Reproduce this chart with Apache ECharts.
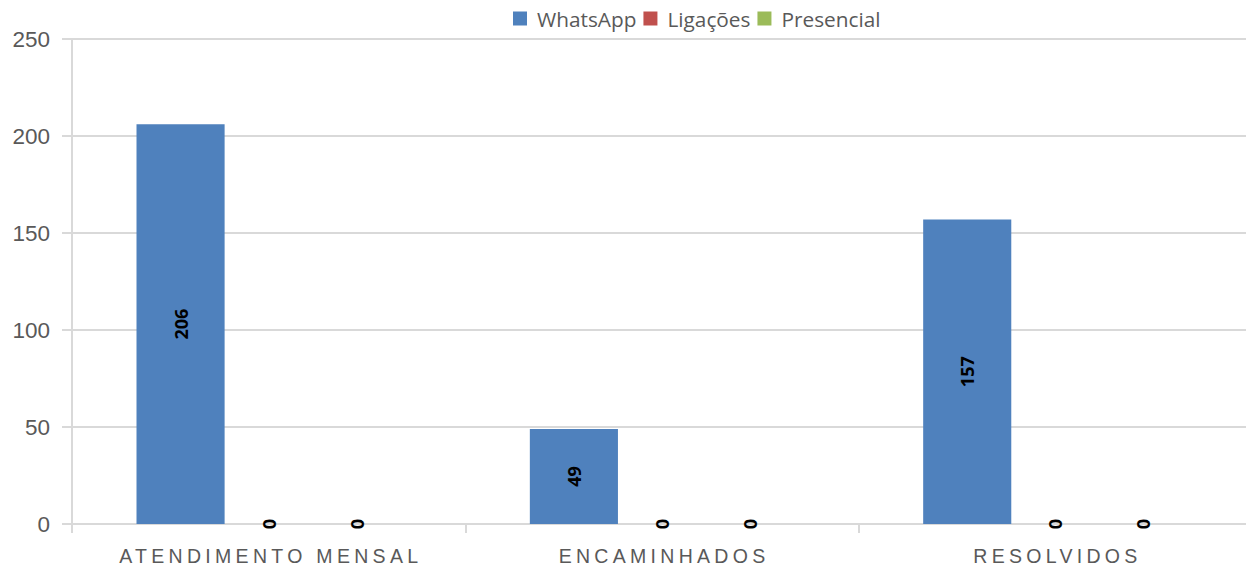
<!DOCTYPE html>
<html><head><meta charset="utf-8">
<script src="https://cdn.jsdelivr.net/npm/echarts@6/dist/echarts.min.js"></script>
<style>html,body{margin:0;padding:0;background:#fff}#c{width:1246px;height:570px}</style>
</head><body><div id="c"></div>
<script>
const categories = ['ATENDIMENTO MENSAL', 'ENCAMINHADOS', 'RESOLVIDOS'];
const seriesNames = ['WhatsApp', 'Ligações', 'Presencial'];
const whatsapp = [206, 49, 157];
const ligacoes = [0, 0, 0];
const presencial = [0, 0, 0];
const colors = ['#4f81bd', '#c0504d', '#9bbb59'];
const yTicks = {min: 0, max: 250, interval: 50};

const chart = echarts.init(document.getElementById('c'), null, {renderer: 'svg'});
const label = {show: true, position: 'inside', rotate: 90, color: '#000', fontWeight: 'bold', fontSize: 18, fontFamily: 'Open Sans'};
const mk = (name, data, i) => ({name, type: 'bar', data, itemStyle: {color: colors[i]}, barGap: '0%', barCategoryGap: '32.8%', label});
chart.setOption({
  animation: false,
  legend: {top: 3, left: 508, itemWidth: 14, itemHeight: 14, itemGap: 7,
    textStyle: {fontFamily: 'Open Sans', fontSize: 20.8, color: '#595959', padding: [0, 0, 0, 5]},
    data: seriesNames.map(n => ({name: n, icon: 'rect'}))},
  grid: {left: 72, width: 1180, top: 39, bottom: 46, outerBoundsMode: 'none', containLabel: false},
  xAxis: {type: 'category', data: categories,
    axisLine: {lineStyle: {color: '#d9d9d9', width: 2}},
    axisTick: {show: true, length: 9, lineStyle: {color: '#d9d9d9', width: 2}},
    axisLabel: {fontFamily: 'Liberation Sans', fontSize: 19.5, color: '#595959', margin: 22}},
  yAxis: {type: 'value', min: yTicks.min, max: yTicks.max, interval: yTicks.interval,
    axisLine: {show: true, lineStyle: {color: '#d9d9d9', width: 2}},
    axisTick: {show: true, length: 10, lineStyle: {color: '#d9d9d9', width: 2}},
    splitLine: {lineStyle: {color: '#d9d9d9', width: 2}},
    axisLabel: {fontFamily: 'Liberation Sans', fontSize: 22.5, color: '#595959', margin: 22}},
  series: [mk(seriesNames[0], whatsapp, 0), mk(seriesNames[1], ligacoes, 1), mk(seriesNames[2], presencial, 2)]
});
// letter-spaced category labels, as in the original
document.querySelectorAll('#c svg text').forEach(t => {
  if (categories.includes(t.textContent)) {
    t.style.letterSpacing = '4.3px';
    const tr = t.getAttribute('transform') || '';
    t.setAttribute('transform', tr + ' translate(2.1,0)');
  }
});
</script></body></html>
